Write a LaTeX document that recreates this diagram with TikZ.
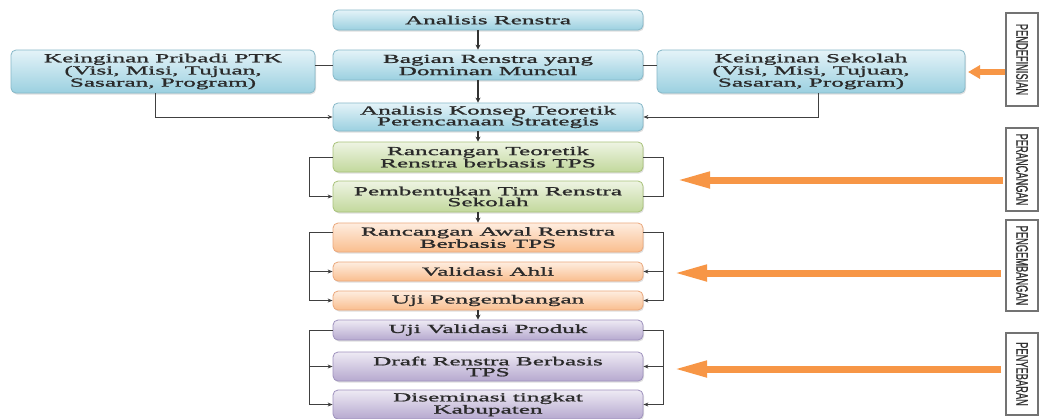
\documentclass[tikz,border=0pt]{standalone}
\usepackage{fontspec}
\usepackage{graphicx}
\setmainfont{Liberation Serif}
\newfontfamily\boxfont[FakeStretch=2.05,FakeBold=1.2]{Liberation Serif}
\newfontfamily\stagefont[FakeBold=1.2]{Liberation Sans}
\usetikzlibrary{arrows.meta,shadows,calc}

\definecolor{bluetop}{HTML}{E4F3F8}
\definecolor{bluebot}{HTML}{9BD0E0}
\definecolor{blueline}{HTML}{86B8C8}
\definecolor{greentop}{HTML}{EEF4E3}
\definecolor{greenbot}{HTML}{C2D89C}
\definecolor{greenline}{HTML}{A9C27A}
\definecolor{orangetop}{HTML}{FEEDE0}
\definecolor{orangebot}{HTML}{F9BE8E}
\definecolor{orangeline}{HTML}{EBA87C}
\definecolor{purpletop}{HTML}{EEEAF4}
\definecolor{purplebot}{HTML}{B6A9CF}
\definecolor{purpleline}{HTML}{9F92BE}
\definecolor{bigorange}{HTML}{F79646}
\definecolor{ink}{HTML}{2A2A2A}

% tall, narrow lettering for the rotated phase names
\newcommand{\phasetext}[1]{\scalebox{1}[1.8]{#1}}

\tikzset{
  stagebase/.style={rounded corners=5pt, line width=0.8pt, inner sep=0pt,
    align=center, text=ink,
    font=\boxfont\fontsize{12.3}{10.9}\selectfont,
    drop shadow={shadow xshift=1pt, shadow yshift=-1.5pt, opacity=0.25}},
  bluebox/.style={stagebase, draw=blueline, top color=bluetop, bottom color=bluebot},
  greenbox/.style={stagebase, draw=greenline, top color=greentop, bottom color=greenbot},
  orangebox/.style={stagebase, draw=orangeline, top color=orangetop, bottom color=orangebot},
  purplebox/.style={stagebase, draw=purpleline, top color=purpletop, bottom color=purplebot},
  colbox/.style={minimum width=310pt},
  phasebox/.style={draw=black!55, line width=1.2pt, fill=white, rotate=-90,
    minimum height=32pt, inner sep=0pt, text=black!80,
    font=\stagefont\fontsize{9.3}{9.3}\selectfont,
    drop shadow={shadow xshift=1pt, shadow yshift=-1pt, opacity=0.25}},
  conn/.style={draw=black!75, line width=0.9pt},
  arr/.style={conn, -{Stealth[length=5pt,width=4pt]}},
  flowarr/.style={draw=black!80, line width=1.6pt, -{Stealth[length=5pt,width=5pt]}},
  bigarrow/.style={draw=bigorange, line width=7pt,
    -{Triangle[length=34pt,width=15pt]}},
  smallarrow/.style={draw=bigorange, line width=6pt,
    -{Triangle[length=12pt,width=13pt]}},
}

\begin{document}
\begin{tikzpicture}[x=1pt,y=-1pt]
\useasboundingbox (0,0) rectangle (1040,418);
\fill[white] (0,0) rectangle (1040,418);

% main column
\node[bluebox, colbox, minimum height=20pt] (ar) at (488,20) {Analisis Renstra};
\node[bluebox, colbox, minimum height=30pt] (br) at (488,65) {Bagian Renstra yang\\Dominan Muncul};
\node[bluebox, colbox, minimum height=28pt] (ak) at (488,117) {Analisis Konsep Teoretik\\Perencanaan Strategis};
\node[greenbox, colbox, minimum height=30pt] (rt) at (488,157) {Rancangan Teoretik\\Renstra berbasis TPS};
\node[greenbox, colbox, minimum height=31pt] (pt) at (488,196.5) {Pembentukan Tim Renstra\\Sekolah};
\node[orangebox, colbox, minimum height=29pt] (ra) at (488,237.5) {Rancangan Awal Renstra\\Berbasis TPS};
\node[orangebox, colbox, minimum height=19pt] (va) at (488,271.5) {Validasi Ahli};
\node[orangebox, colbox, minimum height=19pt] (up) at (488,300.5) {Uji Pengembangan};
\node[purplebox, colbox, minimum height=20pt] (uv) at (488,330) {Uji Validasi Produk};
\node[purplebox, colbox, minimum height=29pt] (dr) at (488,366.5) {Draft Renstra Berbasis\\TPS};
\node[purplebox, colbox, minimum height=29pt] (ds) at (488,404.5) {Diseminasi tingkat\\Kabupaten};

% side inputs
\node[bluebox, minimum width=304pt, minimum height=43pt] (kp) at (163,71.5)
  {Keinginan Pribadi PTK\\(Visi, Misi, Tujuan,\\Sasaran, Program)};
\node[bluebox, minimum width=308pt, minimum height=43pt] (ks) at (811,71.5)
  {Keinginan Sekolah\\(Visi, Misi, Tujuan,\\Sasaran, Program)};

% phase labels
\node[phasebox, minimum width=93pt] (l1) at (1022,59.5) {\phasetext{PENDEFINISIAN}};
\node[phasebox, minimum width=83pt] (l2) at (1022,169.5) {\phasetext{PERANCANGAN}};
\node[phasebox, minimum width=91pt] (l3) at (1022,265.5) {\phasetext{PENGEMBANGAN}};
\node[phasebox, minimum width=82pt] (l4) at (1022,374) {\phasetext{PENYEBARAN}};

% flow down the column
\draw[flowarr] ([xshift=-10pt]ar.south) -- ([xshift=-10pt]br.north);
\draw[flowarr] ([xshift=-10pt]br.south) -- ([xshift=-10pt]ak.north);
\draw[flowarr] ([xshift=-10pt]ak.south) -- ([xshift=-10pt]rt.north);
\draw[flowarr] ([xshift=-10pt]pt.south) -- ([xshift=-10pt]ra.north);
\draw[flowarr] ([xshift=-10pt]up.south) -- ([xshift=-10pt]uv.north);

% side inputs into the analysis
\draw[conn] (kp.east |- br.west) -- (br.west);
\draw[conn] (ks.west |- br.east) -- (br.east);
\draw[arr] ([xshift=-8pt]kp.south) |- (ak.west);
\draw[arr] ([xshift=7pt]ks.south) |- (ak.east);

% brackets: design phase
\draw[arr] (rt.west) -- ++(-23,0) |- (pt.west);
\draw[conn] (rt.east) -- ++(20,0) |- (pt.east);

% brackets: development phase
\draw[arr] ([yshift=5pt]ra.west) -- ++(-23,0) |- (up.west);
\draw[arr] ([xshift=-23pt]va.west) -- (va.west);
\draw[arr] ([yshift=5pt]ra.east) -- ++(20,0) |- (up.east);
\draw[arr] ([xshift=20pt]va.east) -- (va.east);

% brackets: dissemination phase
\draw[arr] (uv.west) -- ++(-23,0) |- (ds.west);
\draw[arr] ([xshift=-23pt]dr.west) -- (dr.west);
\draw[arr] (uv.east) -- ++(20,0) |- (ds.east);
\draw[arr] ([xshift=20pt]dr.east) -- (dr.east);

% phase pointers
\coordinate (t1) at (968,72);
\coordinate (t2) at (676,180);
\coordinate (t3) at (673,273);
\coordinate (t4) at (673,369);
\draw[smallarrow] (l1.south |- t1) -- (t1);
\draw[bigarrow] ([xshift=-2pt]l2.south |- t2) -- (t2);
\draw[bigarrow] ([xshift=-4pt]l3.south |- t3) -- (t3);
\draw[bigarrow] ([xshift=-4pt]l4.south |- t4) -- (t4);
\end{tikzpicture}
\end{document}
